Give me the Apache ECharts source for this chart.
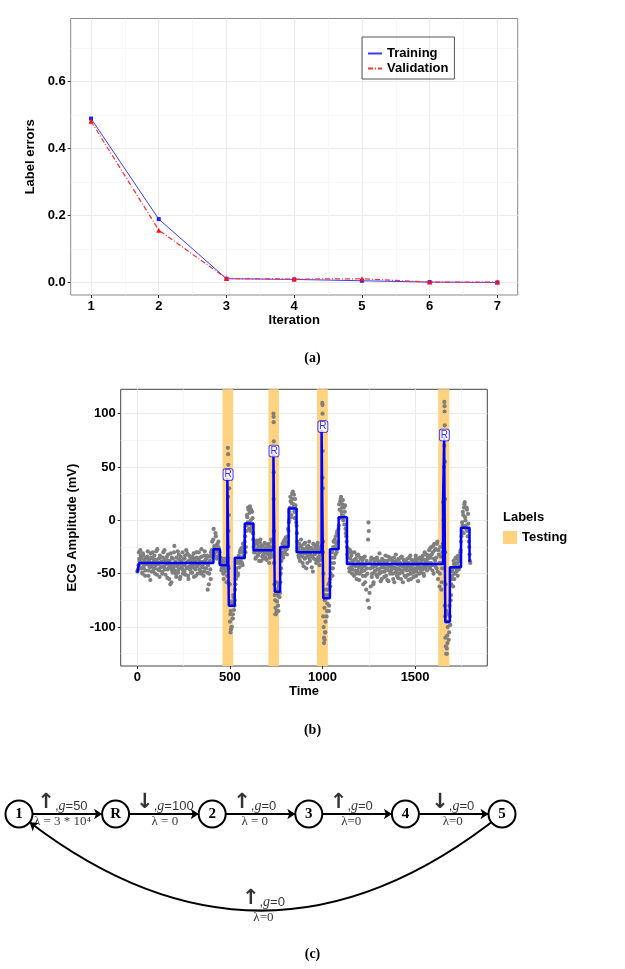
<!DOCTYPE html>
<html>
<head>
<meta charset="utf-8">
<script src="https://cdn.jsdelivr.net/npm/echarts@6.0.0/dist/echarts.min.js"></script>
<style>
  html, body { margin: 0; padding: 0; background: #fff; }
  #chart { width: 625px; height: 969px; }
</style>
</head>
<body>
<div id="chart"></div>
<script>
(() => {
  // ── Panel (a): label errors per iteration ────────────────────────────────
  const iterations = [1, 2, 3, 4, 5, 6, 7];
  const trainingErr = [0.489, 0.189, 0.011, 0.009, 0.005, 0.001, 0.000];
  const validationErr = [0.481, 0.156, 0.012, 0.010, 0.011, 0.001, 0.001];
  const iterMinor = [1.5, 2.5, 3.5, 4.5, 5.5, 6.5];
  const errTicks = [0, 0.2, 0.4, 0.6];
  const errMinor = [0.1, 0.3, 0.5, 0.7];

  // ── Panel (b): ECG samples ───────────────────────────────────────────────
  // two interleaved passes: ecgValues at t = 4i, ecgValuesB at t = 4i + 2
  const ecgStep = 4;
  const ecgValues = [
    -48, -46, -30,                                              // t 0-8
    -38, -28, -45, -36, -50, -33, -42, -39, -47, -35,           // 12
    -41, -29, -52, -37, -44, -31, -48, -40, -36, -45,           // 52
    -33, -50, -42, -38, -27, -46, -40, -53, -35, -43,           // 92
    -39, -48, -30, -44, -37, -51, -41, -34, -46, -38,           // 132
    -55, -42, -31, -58, -47, -36, -44, -24, -40, -50,           // 172
    -35, -43, -49, -32, -41, -53, -38, -45, -30, -47,           // 212
    -42, -36, -51, -28, -44, -39, -55, -33, -46, -40,           // 252
    -37, -49, -42, -31, -45, -38, -52, -35, -43, -41,           // 292
    -30, -46, -39, -50, -34, -44, -41, -48, -29, -37,           // 332
    -45, -33, -65, -40, -50, -38, -55,                          // 372-396
    -32, -20, -28, -8, -24, -30, -15, -27, -22, -34, -26, -30, -38, // 400-448
    -40, -45, -38, -50, -42, -36, -48, -44, -52, -35,           // 452-488
    -10, 30,                                                    // 492-496
    -95, -85, -100, -78, -88, -72, -80, -65,                    // 500-528
    -55, -45, -38, -50, -33, -40, -28, -36, -30, -42, -25, -35, -20, -30, // 532-584
    -10, 5, -2, 10, -8, 13, 0, -5, 8, -12,                      // 588-624
    -25, -30, -20, -35, -28, -22, -33, -26, -30, -18,           // 628
    -38, -27, -24, -32, -29, -21, -35, -26, -30, -23,           // 668
    -28, -40, -25, -31, -27, -20, -33,                          // 708-732
    20,                                                         // 736
    -60, -75, -88, -65, -70, -80, -62, -72, -58,                // 740-772
    -45, -30, -22, -35, -25, -18, -28, -20, -32, -15, -10,      // 776-816
    0, 12, 18, 5, 25, 27, 15, 8, 20, 10, -5,                    // 820-860
    -20, -28, -35, -25, -32, -18, -30, -40, -27, -22,           // 864
    -36, -30, -45, -25, -33, -28, -20, -38, -30, -26,           // 904
    -34, -48, -29, -23, -31, -37, -27, -24, -35, -30,           // 944
    -42, -28, -33, -25,                                         // 984-996
    40,                                                         // 1000
    -90, -110, -75, -95, -65, -85, -70, -60, -80, -55,          // 1004-1040
    -50, -40, -30, -45, -20, -35, -25, -15, -30, -10, -20,      // 1044-1084
    -5, 10, 18, 22, 5, 15, 0, 12, 8, -8, -15,                   // 1088-1128
    -25, -35, -30, -45, -28, -40, -33, -50, -38, -42,           // 1132
    -30, -47, -36, -55, -40, -32, -44, -50, -35, -41,           // 1172
    -48, -37, -60, -43, -34, -52, -65, -45, -75, -2,            // 1212
    -82, -40, -62, -35, -50, -44, -58, -39, -47, -36,           // 1252
    -42, -53, -38, -46, -31, -49, -41, -55, -37, -44,           // 1292
    -40, -48, -33, -52, -45, -38, -57, -42, -35, -47,           // 1332
    -43, -36, -50, -39, -58, -45, -32, -48, -41, -54,           // 1372
    -37, -46, -40, -55, -34, -49, -43, -38, -52, -45,           // 1412
    -39, -47, -42, -56, -35, -44, -50, -37, -46, -41,           // 1452
    -53, -38, -45, -33, -48, -42, -57, -36, -44, -40,           // 1492
    -49, -35, -46, -41, -52, -30, -43, -38, -47, -34,           // 1532
    -40, -28, -45, -35, -25, -42, -30, -50, -22, -38,           // 1572
    -27, -45, -20, -55, -32, -62, -25, -40, -58, -30,           // 1612-1648
    17, 50,                                                     // 1652-1656
    -80, -110, -95, -125, -100, -88, -105, -90, -75,            // 1660-1692
    -60, -52, -45, -38, -55, -42, -35, -48, -40, -33, -46, -38, -30, // 1696-1744
    -20, -10, -5, 5, 12, 17, 0, -8, 10, -15, -3,                // 1748-1788
    -25, -38                                                    // 1792-1796
  ];
  const ecgValuesB = [
    -47, -42, -36,                                              // t 2-10
    -44, -33, -40, -49, -31, -45, -38, -52, -36, -41,           // 14
    -34, -47, -39, -43, -56, -35, -42, -30, -48, -38,           // 54
    -45, -37, -29, -51, -41, -36, -47, -33, -44, -39,           // 94
    -50, -35, -43, -28, -46, -40, -37, -54, -32, -44,           // 134
    -38, -60, -45, -35, -49, -42, -30, -47, -39, -53,           // 174
    -41, -29, -46, -37, -55, -34, -44, -40, -50, -36,           // 214
    -48, -33, -40, -45, -31, -52, -38, -43, -35, -49,           // 254
    -44, -34, -39, -53, -36, -46, -30, -42, -50, -37,           // 294
    -41, -35, -48, -27, -43, -39, -52, -33, -45, -40,           // 334
    -36, -49, -42, -60, -34, -46, -30,                          // 374-398
    -28, -35, -18, -26, -33, -12, -29, -36, -24, -20, -32, -40, -35, // 402-450
    -47, -36, -44, -55, -39, -46, -41, -58, -37, -43,           // 454-490
    5, -60,                                                     // 494-498
    -88, -102, -76, -92, -70, -84, -75, -60,                    // 502-530
    -48, -40, -52, -35, -44, -30, -38, -26, -40, -22, -33, -28, -15, -25, // 534-586
    -5, 3, 12, -3, 7, -10, 10, -7, 2, -18,                      // 590-626
    -30, -23, -36, -27, -19, -32, -25, -38, -21, -29,           // 630
    -24, -34, -28, -36, -22, -31, -26, -37, -25, -32,           // 670
    -22, -35, -30, -18, -34, -26, -24,                          // 710-734
    -40,                                                        // 738
    -70, -82, -58, -76, -66, -85, -60, -68, -50,                // 742-774
    -38, -26, -33, -20, -30, -24, -16, -27, -22, -8, -2,        // 778-818
    8, 22, 3, 16, 20, 12, 24, 2, 14, -2, -12,                   // 822-862
    -26, -33, -22, -38, -29, -24, -34, -27, -43, -31,           // 866
    -21, -35, -28, -40, -24, -32, -36, -26, -33, -44,           // 906
    -28, -22, -36, -32, -26, -40, -30, -21, -38, -27,           // 946
    -33, -37, -24, -30,                                         // 986-998
    -30,                                                        // 1002
    -100, -82, -105, -70, -90, -78, -65, -85, -58, -62,         // 1006-1042
    -45, -35, -52, -25, -40, -18, -32, -22, -12, -26, -8,       // 1046-1086
    15, 2, 20, 8, 12, 19, 4, -4, 14, -12, -20,                  // 1090-1130
    -32, -40, -27, -48, -36, -44, -30, -46, -41, -52,           // 1134
    -37, -43, -50, -33, -47, -39, -56, -42, -36, -45,           // 1174
    -40, -52, -35, -47, -58, -41, -38, -50, -18, -10,           // 1214
    -68, -45, -37, -53, -42, -60, -36, -48, -43, -51,           // 1254
    -35, -46, -41, -50, -39, -57, -44, -36, -48, -42,           // 1294
    -53, -38, -45, -41, -56, -34, -47, -43, -50, -37,           // 1334
    -46, -40, -55, -35, -44, -49, -38, -52, -45, -36,           // 1374
    -50, -42, -35, -47, -43, -58, -37, -46, -40, -53,           // 1414
    -44, -36, -51, -40, -47, -33, -55, -43, -38, -49,           // 1454
    -41, -48, -36, -52, -39, -45, -43, -50, -35, -46,           // 1494
    -38, -44, -33, -50, -37, -45, -40, -32, -42, -36,           // 1534
    -33, -44, -26, -40, -32, -47, -24, -36, -28, -43,           // 1574
    -35, -22, -48, -28, -40, -50, -34, -65, -45, -22,           // 1614-1650
    0, 70,                                                      // 1654-1658
    -90, -118, -85, -108, -95, -112, -80, -98, -70,             // 1662-1694
    -55, -48, -62, -41, -50, -36, -45, -40, -52, -37, -43, -35, -28, // 1698-1746
    -15, -2, 8, -12, 15, 3, -5, 12, -10, 6, -20,                // 1750-1790
    -32, -40                                                    // 1794-1798
  ];
  // samples on the steep R / S flanks, [time, mV]
  const ecgPeakPoints = [
    [489, 68], [490, 62], [491, 52], [490, 22], [492, -25], [493, -45], [498, -60], [503, -105], [510, -100], [515, -92],
    [735, 100], [736, 97], [736, 92], [737, 74], [737, 45], [738, -10], [739, -40], [745, -88], [752, -85],
    [999, 110], [1000, 108], [1000, 100], [1001, 65], [1002, 30], [1003, -20], [1005, -50], [1008, -115], [1011, -112], [1015, -105],
    [1658, 111], [1659, 107], [1659, 102], [1660, 89], [1661, 55], [1662, 20], [1663, -30], [1665, -60], [1668, -125], [1671, -120], [1675, -115]
  ];
  // fitted piecewise-constant segments
  const segStart = [0, 9, 411, 446, 486, 494, 526, 580, 627, 735, 742, 771, 817, 860, 995, 1004, 1040, 1087, 1132, 1651, 1657, 1663, 1688, 1748, 1794, 1800];
  const segLevel = [-49, -40, -27, -42, 40, -80, -35, -3, -28, 62, -67, -25, 11, -30, 85, -73, -27, 3, -41, 17, 78, -95, -44, -7, -38, -38];
  const rPeaks = [[490, 43], [738, 65], [1002, 88], [1658, 80]];
  const testingBands = [[460, 517], [708, 765], [970, 1029], [1625, 1685]];
  const timeTicks = [0, 500, 1000, 1500];
  const timeMinor = [250, 750, 1250, 1750];
  const ampTicks = [-100, -50, 0, 50, 100];
  const ampMinor = [-125, -75, -25, 25, 75];

  // ── Panel (c): state chain ───────────────────────────────────────────────
  const stateNames = ['1', 'R', '2', '3', '4', '5'];
  const edgeFrom = [0, 1, 2, 3, 4, 5];
  const edgeTo = [1, 2, 3, 4, 5, 0];
  const edgeDir = ['↑', '↓', '↑', '↑', '↓', '↑'];
  const edgeGain = ['50', '100', '0', '0', '0', '0'];
  const edgeLambda = ['λ = 3 * 10⁴', 'λ = 0', 'λ = 0', 'λ=0', 'λ=0', 'λ=0'];
  const edgeLabelX = [0.45, 1.51, 2.44, 3.44, 4.49, 2.53];
  const edgeLabelY = [0, 0, 0, 0, 0, -1.92];

  // ── Helpers ──────────────────────────────────────────────────────────────
  const FONT = 'Liberation Sans';
  const tickLabel = { fontFamily: FONT, fontWeight: 'bold', fontSize: 13, color: '#000' };
  const axisName = { fontFamily: FONT, fontWeight: 'bold', fontSize: 13, color: '#000' };
  const majorLine = { show: true, lineStyle: { color: '#ebebeb', width: 1 } };
  const minorLine = { show: true, lineStyle: { color: '#f4f4f4', width: 0.7 } };

  function majorAxis(grid, min, max, ticks, fmt, extra) {
    return Object.assign({
      gridIndex: grid, type: 'value', min, max,
      nameLocation: 'middle', nameTextStyle: axisName,
      axisLine: { show: false, onZero: false },
      axisTick: { show: true, length: 3, inside: false, customValues: ticks, lineStyle: { color: '#333' } },
      axisLabel: Object.assign({ customValues: ticks, margin: 5, formatter: fmt }, tickLabel),
      splitLine: majorLine
    }, extra || {});
  }

  function minorAxis(grid, min, max, ticks) {
    return {
      gridIndex: grid, type: 'value', min, max,
      axisLine: { show: false, onZero: false },
      axisTick: { show: false, customValues: ticks },
      axisLabel: { show: false },
      splitLine: minorLine
    };
  }

  const chart = echarts.init(document.getElementById('chart'), null, { renderer: 'canvas' });

  const topRich = {
    arr: { fontFamily: 'DejaVu Sans', fontWeight: 'bold', fontSize: 21, color: '#000', verticalAlign: 'bottom', lineHeight: 21 },
    t: { fontFamily: FONT, fontSize: 13, color: '#000', verticalAlign: 'bottom', lineHeight: 18 },
    g: { fontFamily: 'Liberation Serif', fontStyle: 'italic', fontSize: 14, color: '#000', verticalAlign: 'bottom', lineHeight: 18 }
  };
  const serifBold = { fontFamily: 'Liberation Serif', fontWeight: 'bold', fontSize: 14, color: '#000' };

  const option = {
    animation: false,
    backgroundColor: '#fff',
    title: [
      { text: '(a)', left: 'center', top: 346, textStyle: serifBold },
      { text: '(b)', left: 'center', top: 718, textStyle: serifBold },
      { text: '(c)', left: 'center', top: 942, textStyle: serifBold },
      { text: 'Labels', left: 498, top: 506, textStyle: { fontFamily: FONT, fontWeight: 'bold', fontSize: 13, color: '#000' } }
    ],
    legend: [
      {
        data: ['Training', 'Validation'], orient: 'vertical', left: 362, top: 37,
        padding: [10, 6, 4, 5], itemGap: 2, itemWidth: 14, itemHeight: 14,
        borderColor: '#555', borderWidth: 1,
        itemStyle: { opacity: 0 },
        textStyle: { fontFamily: FONT, fontWeight: 'bold', fontSize: 13, color: '#000' }
      },
      {
        data: [{ name: 'Testing', icon: 'rect' }], left: 498, top: 526,
        itemWidth: 14, itemHeight: 13,
        textStyle: { fontFamily: FONT, fontWeight: 'bold', fontSize: 13, color: '#000' }
      }
    ],
    grid: [
      { left: 70.7, right: 107.3, top: 18.5, bottom: 674, show: true, borderColor: '#8a8a8a', borderWidth: 1, backgroundColor: 'transparent' },
      { left: 120.7, right: 137.7, top: 389.3, bottom: 303, show: true, borderColor: '#444', borderWidth: 1, backgroundColor: 'transparent' },
      { left: 19, width: 483, top: 764, height: 200, show: false }
    ],
    xAxis: [
      majorAxis(0, 0.7, 7.3, iterations, v => String(v), { name: 'Iteration', nameGap: 19 }),
      minorAxis(0, 0.7, 7.3, iterMinor),
      majorAxis(1, -90, 1890, timeTicks, v => String(v), { name: 'Time', nameGap: 19 }),
      minorAxis(1, -90, 1890, timeMinor),
      { gridIndex: 2, type: 'value', min: 0, max: 5, show: false }
    ],
    yAxis: [
      majorAxis(0, -0.0375, 0.7875, errTicks, v => v.toFixed(1), { name: 'Label errors', nameGap: 25 }),
      minorAxis(0, -0.0375, 0.7875, errMinor),
      majorAxis(1, -136.5, 122.8, ampTicks, v => String(v), { name: 'ECG Amplitude (mV)', nameGap: 32 }),
      minorAxis(1, -136.5, 122.8, ampMinor),
      { gridIndex: 2, type: 'value', min: -3, max: 1, show: false }
    ],
    series: [
      // (a)
      {
        name: 'Training', type: 'line', xAxisIndex: 0, yAxisIndex: 0, z: 3,
        data: iterations.map((x, i) => [x, trainingErr[i]]),
        symbol: 'rect', symbolSize: 4,
        lineStyle: { color: '#3a3aff', width: 1 },
        itemStyle: { color: '#2020ff' }
      },
      {
        name: 'Validation', type: 'line', xAxisIndex: 0, yAxisIndex: 0, z: 4,
        data: iterations.map((x, i) => [x, validationErr[i]]),
        symbol: 'triangle', symbolSize: 5,
        lineStyle: { color: '#ff3030', width: 1.2, type: [5, 2, 1, 2] },
        itemStyle: { color: '#ff1010' }
      },
      // (b)
      {
        name: 'Testing', type: 'line', xAxisIndex: 2, yAxisIndex: 2, z: 1,
        data: [], itemStyle: { color: '#ffd27f' }, lineStyle: { color: '#ffd27f' },
        markArea: {
          silent: true,
          itemStyle: { color: '#ffd27f', opacity: 1 },
          data: testingBands.map(b => [{ xAxis: b[0] }, { xAxis: b[1] }])
        }
      },
      {
        name: 'ECG', type: 'scatter', xAxisIndex: 2, yAxisIndex: 2, z: 2,
        data: ecgValues.map((v, i) => [i * ecgStep, v])
          .concat(ecgValuesB.map((v, i) => [i * ecgStep + 2, v]))
          .concat(ecgPeakPoints),
        symbolSize: 4.2, itemStyle: { color: '#7f7f7f', opacity: 1 }
      },
      {
        name: 'Segments', type: 'line', xAxisIndex: 2, yAxisIndex: 2, z: 3,
        data: segStart.map((t, i) => [t, segLevel[i]]),
        step: 'end', symbol: 'none',
        lineStyle: { color: '#0000ff', width: 2.5 }
      },
      {
        name: 'R', type: 'scatter', xAxisIndex: 2, yAxisIndex: 2, z: 5,
        data: rPeaks, symbolSize: 0,
        label: {
          show: true, position: 'inside', formatter: 'R',
          fontFamily: FONT, fontSize: 10, color: '#0000ff',
          backgroundColor: '#fff', borderColor: '#0000ff', borderWidth: 0.8, borderRadius: 2,
          padding: [1, 1, 0, 1]
        }
      },
      // (c)
      {
        type: 'graph', coordinateSystem: 'cartesian2d', xAxisIndex: 4, yAxisIndex: 4, z: 3,
        symbol: 'circle', symbolSize: 27, silent: true,
        itemStyle: { color: '#fff', borderColor: '#000', borderWidth: 2 },
        label: { show: true, position: 'inside', formatter: '{b}', fontFamily: 'Liberation Serif', fontWeight: 'bold', fontSize: 15, color: '#000' },
        edgeSymbol: ['none', 'arrow'], edgeSymbolSize: 8,
        lineStyle: { color: '#000', width: 2, opacity: 1 },
        data: stateNames.map((n, i) => ({ name: n, value: [i, 0] })),
        links: edgeFrom.map((s, i) => ({
          source: s, target: edgeTo[i],
          lineStyle: { curveness: i === 5 ? 0.4 : 0 }
        }))
      },
      {
        type: 'scatter', xAxisIndex: 4, yAxisIndex: 4, z: 4, silent: true,
        data: edgeLabelX.map((x, i) => [x, edgeLabelY[i]]), symbolSize: 0,
        label: {
          show: true, position: 'top', distance: 1,
          formatter: p => `{arr|${edgeDir[p.dataIndex]}}{t|,}{g|g}{t|=${edgeGain[p.dataIndex]}}`,
          rich: topRich
        }
      },
      {
        type: 'scatter', xAxisIndex: 4, yAxisIndex: 4, z: 4, silent: true,
        data: edgeLabelX.map((x, i) => [x, edgeLabelY[i]]), symbolSize: 0,
        label: {
          show: true, position: 'bottom', distance: 1,
          formatter: p => edgeLambda[p.dataIndex],
          fontFamily: 'Liberation Serif', fontSize: 13, color: '#000'
        }
      }
    ]
  };

  chart.setOption(option);
})();
</script>
</body>
</html>
